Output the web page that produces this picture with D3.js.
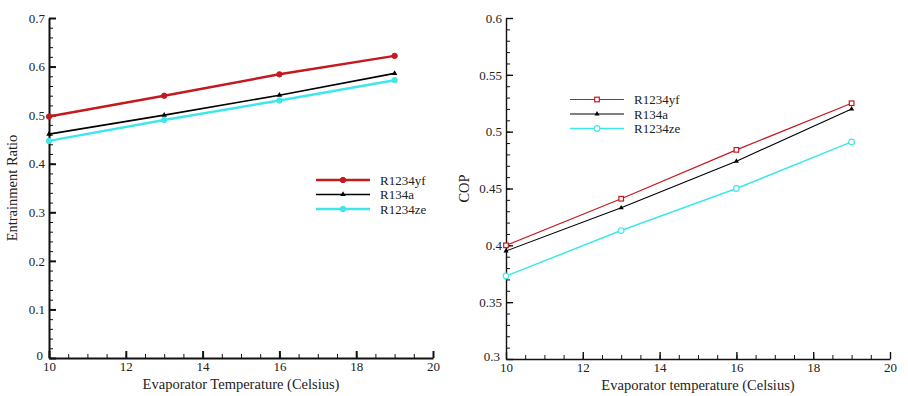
<!DOCTYPE html>
<html>
<head>
<meta charset="utf-8">
<script src="https://cdn.jsdelivr.net/npm/d3@7"></script>
<style>
  body { margin: 0; background: #fff; }
  text { font-family: "Liberation Serif", "Times New Roman", serif; fill: #222; }
  .axis path, .axis line { stroke: #111; }
  .axis text { font-size: 13px; }
</style>
</head>
<body>
<svg id="chart" width="908" height="396"></svg>
<script>
// data
var temps = [10, 13, 16, 19];
var seriesNames = ["R1234yf", "R134a", "R1234ze"];

var ratioR1234yf = [0.497, 0.540, 0.584, 0.622];
var ratioR134a   = [0.461, 0.500, 0.541, 0.586];
var ratioR1234ze = [0.447, 0.490, 0.530, 0.572];

var copR1234yf = [0.400, 0.441, 0.484, 0.525];
var copR134a   = [0.395, 0.433, 0.474, 0.520];
var copR1234ze = [0.373, 0.413, 0.450, 0.491];

var xTicks = [10, 12, 14, 16, 18, 20];
var ratioTicks = [0, 0.1, 0.2, 0.3, 0.4, 0.5, 0.6, 0.7];
var copTicks = [0.3, 0.35, 0.4, 0.45, 0.5, 0.55, 0.6];

var colors = ["#c41a1f", "#000000", "#3fe6ea"];

var svg = d3.select("#chart");

function fmt(d) { return String(+d.toFixed(2)); }

function drawPanel(opt) {
  var g = svg.append("g")
      .attr("transform", "translate(" + opt.left + "," + opt.top + ")");

  var x = d3.scaleLinear().domain([10, 20]).range([0, opt.width]);
  var y = d3.scaleLinear().domain(opt.yDomain).range([opt.height, 0]);

  // minor ticks
  g.append("g")
      .attr("class", "axis")
      .attr("transform", "translate(0," + opt.height + ")")
      .call(d3.axisBottom(x).tickValues(d3.range(10, 20.01, 0.5)).tickSize(-4).tickSizeOuter(0).tickFormat(""))
      .call(function(a) { a.select(".domain").remove(); });
  g.append("g")
      .attr("class", "axis")
      .call(d3.axisLeft(y).tickValues(d3.range(opt.yDomain[0], opt.yDomain[1] + 1e-9, opt.yMinor)).tickSize(-4).tickSizeOuter(0).tickFormat(""))
      .call(function(a) { a.select(".domain").remove(); });

  // major ticks + labels
  var xa = g.append("g")
      .attr("class", "axis")
      .attr("transform", "translate(0," + opt.height + ")")
      .call(d3.axisBottom(x).tickValues(xTicks).tickSize(-7).tickSizeOuter(0).tickPadding(4).tickFormat(d3.format("d")));
  var ya = g.append("g")
      .attr("class", "axis")
      .call(d3.axisLeft(y).tickValues(opt.yTicks).tickSize(-7).tickSizeOuter(0).tickPadding(4).tickFormat(fmt));
  xa.select(".domain").attr("stroke-width", opt.axisWidth);
  ya.select(".domain").attr("stroke-width", opt.axisWidth);
  xa.selectAll(".tick line").attr("stroke-width", opt.axisWidth);
  ya.selectAll(".tick line").attr("stroke-width", opt.axisWidth);
  // the bottom y label sits a little up-left of the corner
  ya.selectAll(".tick text").filter(function(d, i) { return i === 0; })
      .attr("dx", -2).attr("dy", "0.1em");

  // titles
  g.append("text")
      .attr("x", opt.width / 2)
      .attr("y", opt.height + 31)
      .attr("text-anchor", "middle")
      .style("font-size", "14.5px")
      .text(opt.xTitle);
  g.append("text")
      .attr("transform", "translate(" + opt.yTitleX + "," + (opt.height / 2) + ") rotate(-90)")
      .attr("text-anchor", "middle")
      .style("font-size", "14.5px")
      .text(opt.yTitle);

  var line = d3.line()
      .x(function(d, i) { return x(temps[i]); })
      .y(function(d) { return y(d); });

  opt.series.forEach(function(vals, k) {
    g.append("path")
        .attr("d", line(vals))
        .attr("fill", "none")
        .attr("stroke", colors[k])
        .attr("stroke-width", opt.lineWidths[k]);
    vals.forEach(function(v, i) {
      opt.marker(g, k, x(temps[i]), y(v));
    });
  });

  // legend
  var lg = g.append("g").attr("transform", "translate(" + opt.legendX + "," + opt.legendY + ")");
  seriesNames.forEach(function(name, k) {
    var yy = k * opt.legendStep;
    lg.append("line")
        .attr("x1", 0).attr("x2", 54)
        .attr("y1", yy).attr("y2", yy)
        .attr("stroke", colors[k])
        .attr("stroke-width", opt.lineWidths[k]);
    opt.marker(lg, k, 27, yy);
    lg.append("text")
        .attr("x", 64)
        .attr("y", yy)
        .attr("dy", "0.35em")
        .style("font-size", "13px")
        .text(name);
  });
}

function triangle(g, cx, cy, s) {
  g.append("path")
      .attr("d", d3.symbol(d3.symbolTriangle, s)())
      .attr("transform", "translate(" + cx + "," + cy + ")")
      .attr("fill", "#000");
}

// left: entrainment ratio
drawPanel({
  left: 49, top: 18, width: 384, height: 340,
  yDomain: [0, 0.7], yTicks: ratioTicks, yMinor: 0.02,
  axisWidth: 2,
  xTitle: "Evaporator Temperature (Celsius)",
  yTitle: "Entrainment Ratio", yTitleX: -32,
  lineWidths: [2.5, 1.6, 2.5],
  legendX: 267, legendY: 162, legendStep: 14.5,
  series: [ratioR1234yf, ratioR134a, ratioR1234ze],
  marker: function(g, k, cx, cy) {
    if (k === 1) { triangle(g, cx, cy, 13); return; }
    g.append("circle")
        .attr("cx", cx).attr("cy", cy).attr("r", 2.7)
        .attr("fill", colors[k])
        .attr("stroke", colors[k])
        .attr("stroke-width", 1);
  }
});

// right: COP
drawPanel({
  left: 506, top: 18, width: 384, height: 341,
  yDomain: [0.3, 0.6], yTicks: copTicks, yMinor: 0.01,
  axisWidth: 1.4,
  xTitle: "Evaporator temperature (Celsius)",
  yTitle: "COP", yTitleX: -37,
  lineWidths: [1.2, 1.1, 1.5],
  legendX: 64, legendY: 81.5, legendStep: 14.5,
  series: [copR1234yf, copR134a, copR1234ze],
  marker: function(g, k, cx, cy) {
    if (k === 1) { triangle(g, cx, cy, 11); return; }
    if (k === 0) {
      g.append("rect")
          .attr("x", cx - 2.3).attr("y", cy - 2.3)
          .attr("width", 4.6).attr("height", 4.6)
          .attr("fill", "#fff")
          .attr("stroke", colors[k])
          .attr("stroke-width", 1.2);
      return;
    }
    g.append("circle")
        .attr("cx", cx).attr("cy", cy).attr("r", 2.8)
        .attr("fill", "#fff")
        .attr("stroke", colors[k])
        .attr("stroke-width", 1.2);
  }
});
</script>
</body>
</html>
